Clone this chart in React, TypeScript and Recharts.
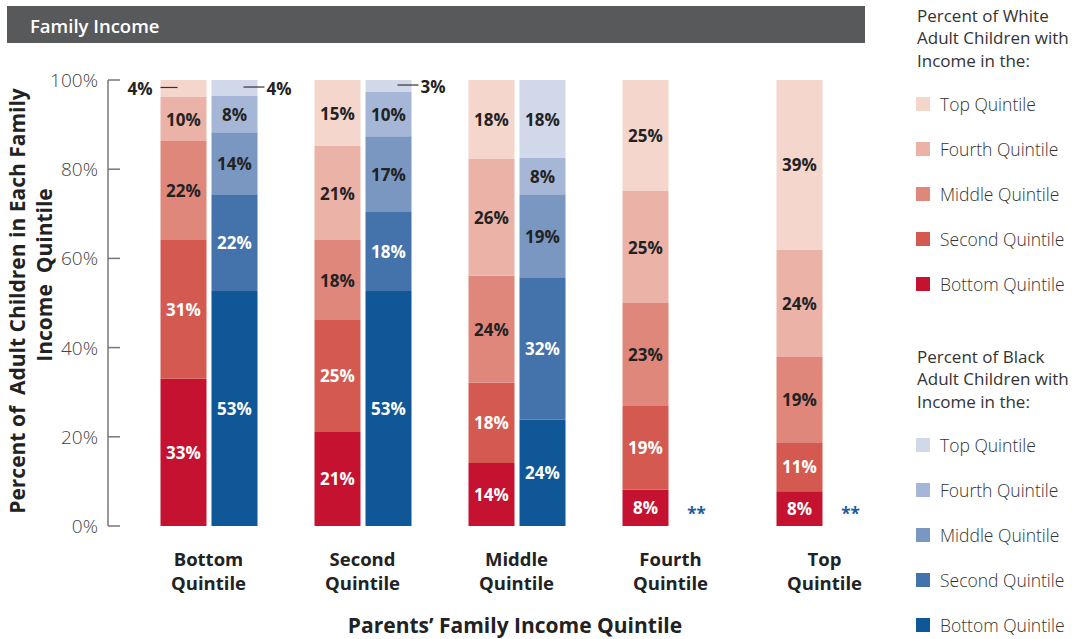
import React from 'react';
import { Bar, BarChart, LabelList, XAxis, YAxis } from 'recharts';

const categories = ['Bottom', 'Second', 'Middle', 'Fourth', 'Top'];

// White adult children, share in each income quintile
const whiteBottom = [33.0, 21.1, 14.1, 8.1, 7.8];
const whiteSecond = [31.1, 25.1, 18.0, 18.8, 11.0];
const whiteMiddle = [22.2, 17.9, 24.0, 23.1, 19.1];
const whiteFourth = [9.9, 21.1, 26.2, 25.1, 24.0];
const whiteTop = [3.8, 14.8, 17.7, 24.9, 38.1];

// Black adult children (no data for the two top parent quintiles)
const blackBottom = [52.7, 52.7, 23.8, null, null];
const blackSecond = [21.7, 17.7, 31.8, null, null];
const blackMiddle = [13.9, 17.0, 18.8, null, null];
const blackFourth = [8.1, 9.9, 8.1, null, null];
const blackTop = [3.6, 2.7, 17.5, null, null];

// printed labels
const whiteBottomLabels = ['33%', '21%', '14%', '8%', '8%'];
const whiteSecondLabels = ['31%', '25%', '18%', '19%', '11%'];
const whiteMiddleLabels = ['22%', '18%', '24%', '23%', '19%'];
const whiteFourthLabels = ['10%', '21%', '26%', '25%', '24%'];
const whiteTopLabels = ['4%', '15%', '18%', '25%', '39%'];
const blackBottomLabels = ['53%', '53%', '24%', '', ''];
const blackSecondLabels = ['22%', '18%', '32%', '', ''];
const blackMiddleLabels = ['14%', '17%', '19%', '', ''];
const blackFourthLabels = ['8%', '10%', '8%', '', ''];
const blackTopLabels = ['4%', '3%', '18%', '', ''];
const blackMissing = ['', '', '', '**', '**'];

const yTicks = [0, 20, 40, 60, 80, 100];
const legendItems = ['Top Quintile', 'Fourth Quintile', 'Middle Quintile', 'Second Quintile', 'Bottom Quintile'];

const whiteColors = ['#f5d6cd', '#ebb3a7', '#e0877b', '#d45a51', '#c41230'];
const blackColors = ['#d0d8ea', '#a6b6d6', '#7a97c2', '#4472aa', '#0f5796'];

const FONT = '"Open Sans", Lato, sans-serif';

const data = categories.map((name, i) => ({
  name,
  w1: whiteBottom[i],
  w2: whiteSecond[i],
  w3: whiteMiddle[i],
  w4: whiteFourth[i],
  w5: whiteTop[i],
  b1: blackBottom[i],
  b2: blackSecond[i],
  b3: blackMiddle[i],
  b4: blackFourth[i],
  b5: blackTop[i],
}));

const LABEL_SIZE = 17;

function makeLabel(labels: string[], values: (number | null)[], color: string, side: 'left' | 'right', missing?: string[]) {
  return (props: any) => {
    const { x, y, width, height, index } = props;
    const text = labels[index];
    const v = values[index];
    const cy = y + height / 2;
    const mark = missing && missing[index] ? (
      <text x={x + width + 28} y={y + height - 6} textAnchor="middle" fill="#1b5c9c" fontSize={17} fontWeight={700} fontFamily={FONT}>
        {missing[index]}
      </text>
    ) : null;
    if (!text) return mark;
    if (v != null && v < 5) {
      if (side === 'left') {
        return (
          <g>
            <line x1={x} x2={x + 17} y1={cy - 1} y2={cy - 1} stroke="#333" strokeWidth={1.2} />
            <text x={x - 8} y={cy} dominantBaseline="central" textAnchor="end" fill="#222" fontSize={LABEL_SIZE} fontWeight={700} fontFamily={FONT}>
              {text}
            </text>
          </g>
        );
      }
      return (
        <g>
          <line x1={x + width - 14} x2={x + width + 7} y1={cy - 1} y2={cy - 1} stroke="#333" strokeWidth={1.2} />
          <text x={x + width + 9} y={cy} dominantBaseline="central" textAnchor="start" fill="#222" fontSize={LABEL_SIZE} fontWeight={700} fontFamily={FONT}>
            {text}
          </text>
        </g>
      );
    }
    return (
      <g>
        <text x={x + width / 2} y={cy} dominantBaseline="central" textAnchor="middle" fill={color} fontSize={LABEL_SIZE} fontWeight={700} fontFamily={FONT}>
          {text}
        </text>
        {mark}
      </g>
    );
  };
}

const YTick = (props: any) => {
  const { x, y, payload } = props;
  return (
    <g>
      <line x1={x + 10} x2={x + 22} y1={y} y2={y} stroke="#777" strokeWidth={1.5} />
      <text x={x} y={y} dominantBaseline="central" textAnchor="end" fill="#444" fontSize={19} fontWeight={300} fontFamily={FONT}>
        {payload.value}%
      </text>
    </g>
  );
};

const XTick = (props: any) => {
  const { x, y, payload } = props;
  return (
    <g>
      <text x={x} y={y + 32} textAnchor="middle" fill="#222" fontSize={18.5} fontWeight={700} fontFamily={FONT}>
        {payload.value}
      </text>
      <text x={x} y={y + 56} textAnchor="middle" fill="#222" fontSize={18.5} fontWeight={700} fontFamily={FONT}>
        Quintile
      </text>
    </g>
  );
};

function Legend({ top, title, colors }: { top: number; title: string[]; colors: string[] }) {
  return (
    <g>
      {title.map((t, i) => (
        <text key={t} x={917} y={top + i * 22.5} dominantBaseline="central" fill="#333" fontSize={17} fontWeight={500} fontFamily={FONT}>
          {t}
        </text>
      ))}
      {legendItems.map((t, i) => (
        <g key={t}>
          <rect x={916} y={top + 89 + i * 45 - 7} width={14} height={14} fill={colors[i]} />
          <text x={940} y={top + 89 + i * 45} dominantBaseline="central" fill="#333" fontSize={17.5} fontWeight={300} fontFamily={FONT}>
            {t}
          </text>
        </g>
      ))}
    </g>
  );
}

export default function App() {
  const whiteSeries = [
    { key: 'w1', labels: whiteBottomLabels, values: whiteBottom, text: '#fff', missing: blackMissing },
    { key: 'w2', labels: whiteSecondLabels, values: whiteSecond, text: '#fff' },
    { key: 'w3', labels: whiteMiddleLabels, values: whiteMiddle, text: '#222' },
    { key: 'w4', labels: whiteFourthLabels, values: whiteFourth, text: '#222' },
    { key: 'w5', labels: whiteTopLabels, values: whiteTop, text: '#222' },
  ];
  const blackSeries = [
    { key: 'b1', labels: blackBottomLabels, values: blackBottom, text: '#fff' },
    { key: 'b2', labels: blackSecondLabels, values: blackSecond, text: '#fff' },
    { key: 'b3', labels: blackMiddleLabels, values: blackMiddle, text: '#222' },
    { key: 'b4', labels: blackFourthLabels, values: blackFourth, text: '#222' },
    { key: 'b5', labels: blackTopLabels, values: blackTop, text: '#222' },
  ];
  return (
    <div style={{ position: 'absolute', left: 0, top: 0, width: 1086, height: 639, background: '#fff', fontFamily: FONT }}>
      <BarChart
        width={1086}
        height={639}
        data={data}
        margin={{ top: 80, right: 184.5, bottom: 0, left: 0 }}
        barSize={46}
        barGap={5}
      >
        <XAxis
          dataKey="name"
          axisLine={false}
          tickLine={false}
          tick={<XTick />}
          height={113}
          padding={{ left: 23.5, right: 0 }}
          interval={0}
        />
        <YAxis
          domain={[0, 100]}
          ticks={yTicks}
          width={108}
          tickSize={0}
          tickMargin={10}
          tickLine={false}
          axisLine={{ stroke: '#777', strokeWidth: 1.5 }}
          tick={<YTick />}
          interval={0}
        />
        {whiteSeries.map((s, i) => (
          <Bar key={s.key} dataKey={s.key} stackId="white" fill={whiteColors[4 - i]} isAnimationActive={false}>
            <LabelList dataKey={s.key} content={makeLabel(s.labels, s.values, s.text, 'left', s.missing)} />
          </Bar>
        ))}
        {blackSeries.map((s, i) => (
          <Bar key={s.key} dataKey={s.key} stackId="black" fill={blackColors[4 - i]} isAnimationActive={false}>
            <LabelList dataKey={s.key} content={makeLabel(s.labels, s.values, s.text, 'right')} />
          </Bar>
        ))}
      </BarChart>
      <svg width={1086} height={639} style={{ position: 'absolute', left: 0, top: 0, pointerEvents: 'none' }}>
        <rect x={7} y={6} width={858} height={37} fill="#58595b" />
        <text x={30} y={25} dominantBaseline="central" fill="#fff" fontSize={18.5} fontWeight={600} fontFamily={FONT}>
          Family Income
        </text>
        <text transform="translate(17,301) rotate(-90)" textAnchor="middle" dominantBaseline="central" fill="#222" fontSize={21} fontWeight={700} fontFamily={FONT} style={{ whiteSpace: 'pre' }}>
          {'Percent of  Adult Children in Each Family'}
        </text>
        <text transform="translate(44,275) rotate(-90)" textAnchor="middle" dominantBaseline="central" fill="#222" fontSize={21} fontWeight={700} fontFamily={FONT} style={{ whiteSpace: 'pre' }}>
          {'Income  Quintile'}
        </text>
        <text x={515} y={625} textAnchor="middle" dominantBaseline="central" fill="#222" fontSize={21} fontWeight={700} fontFamily={FONT}>
          Parents’ Family Income Quintile
        </text>
        <Legend top={15} title={['Percent of White', 'Adult Children with', 'Income in the:']} colors={whiteColors} />
        <Legend top={356} title={['Percent of Black', 'Adult Children with', 'Income in the:']} colors={blackColors} />
      </svg>
    </div>
  );
}
